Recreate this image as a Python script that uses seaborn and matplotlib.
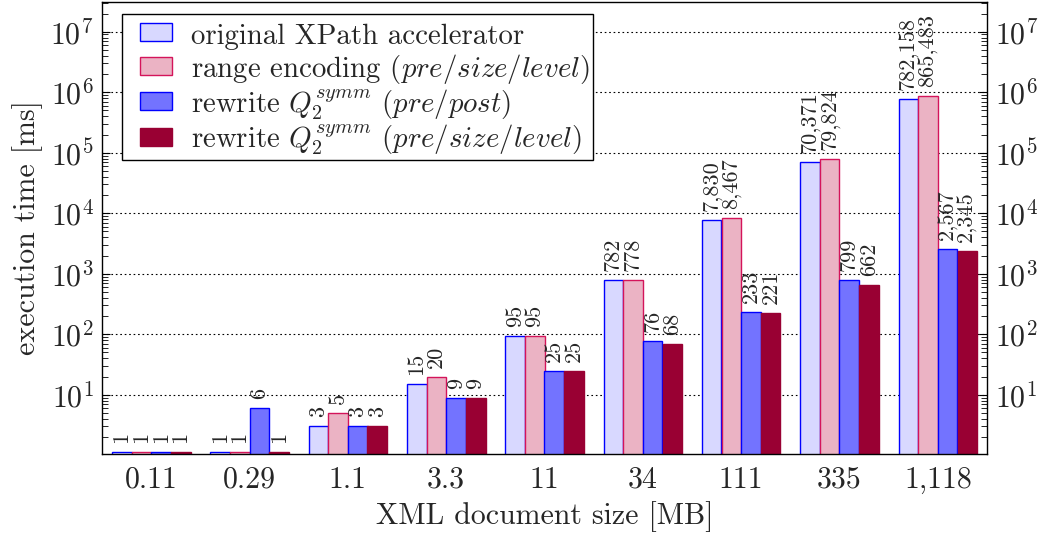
import numpy as np
import pandas as pd
import matplotlib
matplotlib.use("Agg")
import matplotlib.pyplot as plt
import matplotlib.ticker as mticker
from matplotlib.patches import Rectangle
from matplotlib.legend_handler import HandlerPatch
import seaborn as sns

sizes = ['0.11', '0.29', '1.1', '3.3', '11', '34', '111', '335', '1,118']
series_names = [
    'original XPath accelerator',
    r'range encoding ($\mathit{pre/size/level}$)',
    r'rewrite $Q_2^{symm}$ ($\mathit{pre/post}$)',
    r'rewrite $Q_2^{symm}$ ($\mathit{pre/size/level}$)',
]
orig_xpath = [1.13, 1.13, 3, 15, 95, 782, 7830, 70371, 782158]
range_enc = [1.13, 1.13, 5, 20, 95, 778, 8467, 79824, 865483]
rewrite_pp = [1.13, 6, 3, 9, 25, 76, 233, 799, 2567]
rewrite_psl = [1.13, 1.13, 3, 9, 25, 68, 221, 662, 2345]
ytick_vals = [1e1, 1e2, 1e3, 1e4, 1e5, 1e6, 1e7]
ytick_labels = [r'$10^{1}$', r'$10^{2}$', r'$10^{3}$', r'$10^{4}$',
                r'$10^{5}$', r'$10^{6}$', r'$10^{7}$']

fills = ['#d8d8ff', '#ebb3c4', '#7373ff', '#990033']
edges = ['#0000ff', '#d4145a', '#0000ff', '#990033']

FS = 21.5
LFS = 20.8

sns.set_style('ticks')
plt.rcParams['font.family'] = ['cmr10', 'DejaVu Serif']
plt.rcParams['mathtext.fontset'] = 'cm'
plt.rcParams['axes.formatter.use_mathtext'] = True
plt.rcParams['axes.unicode_minus'] = False

rows = []
for name, vals in zip(series_names, [orig_xpath, range_enc, rewrite_pp, rewrite_psl]):
    for s, v in zip(sizes, vals):
        rows.append({'size': s, 'series': name, 'time': v})
df = pd.DataFrame(rows)

fig = plt.figure(figsize=(10.4, 5.34), dpi=100)
ax = fig.add_axes([102 / 1040, 80 / 534, 885 / 1040, 452 / 534])

sns.barplot(data=df, x='size', y='time', hue='series', order=sizes,
            hue_order=series_names, palette=fills, saturation=1,
            width=0.8, legend=False, ax=ax, errorbar=None)
ax.set_yscale('log')
ax.set_ylim(1.05, 3.1e7)
ax.set_xlim(-0.5, len(sizes) - 0.5)

for cont, ec in zip(ax.containers, edges):
    for bar in cont:
        bar.set_edgecolor(ec)
        bar.set_linewidth(1.0)
    ax.bar_label(cont, labels=[f'{round(b.get_height()):,}' for b in cont],
                 rotation=90, padding=6.5, fontsize=16)

ax.set_yticks(ytick_vals)
ax.set_yticklabels(ytick_labels)
ax.yaxis.set_minor_locator(mticker.LogLocator(base=10, subs=np.arange(2, 10), numticks=20))
ax.yaxis.set_minor_formatter(mticker.NullFormatter())
ax.tick_params(axis='y', which='major', direction='in', length=6, width=0.8,
               left=True, right=True, labelleft=True, labelright=True,
               labelsize=FS, color='black', pad=6)
ax.tick_params(axis='y', which='minor', direction='in', length=4, width=0.6,
               left=True, right=True, color='black')
ax.tick_params(axis='x', length=0, labelsize=FS, pad=9)
ax.yaxis.grid(True, which='major', linestyle=(0, (1.5, 2.5)), color='black', linewidth=0.8)
ax.set_axisbelow(True)
for sp in ax.spines.values():
    sp.set_visible(True)
    sp.set_color('black')
    sp.set_linewidth(1.0)

ax.set_xlabel('XML document size [MB]', fontsize=FS, labelpad=5)
ax.set_ylabel('execution time [ms]', fontsize=FS, labelpad=5)

PX = 0.72  # points per pixel


def legend_patch(legend, orig_handle, xdescent, ydescent, width, height, fontsize):
    w = 32 * PX
    h = 18 * PX
    dx = 15 * PX
    return Rectangle((-xdescent + dx, -ydescent + (height + ydescent - h) / 2 - 1.5), w, h)


handles = [Rectangle((0, 0), 1, 1, facecolor=f, edgecolor=e, linewidth=1.0)
           for f, e in zip(fills, edges)]
leg = ax.legend(handles, series_names, loc='upper left',
                bbox_to_anchor=(0.0226, 0.973), borderaxespad=0,
                fontsize=LFS, frameon=True, fancybox=False, framealpha=1,
                edgecolor='black',
                handlelength=(47 * PX) / LFS, handleheight=(40.5 * PX) / LFS,
                handletextpad=(19 * PX) / LFS, labelspacing=0.0,
                borderpad=(3 * PX) / LFS,
                handler_map={Rectangle: HandlerPatch(patch_func=legend_patch)})
leg.get_frame().set_linewidth(1.0)

fig.savefig('out.png', dpi=100)
